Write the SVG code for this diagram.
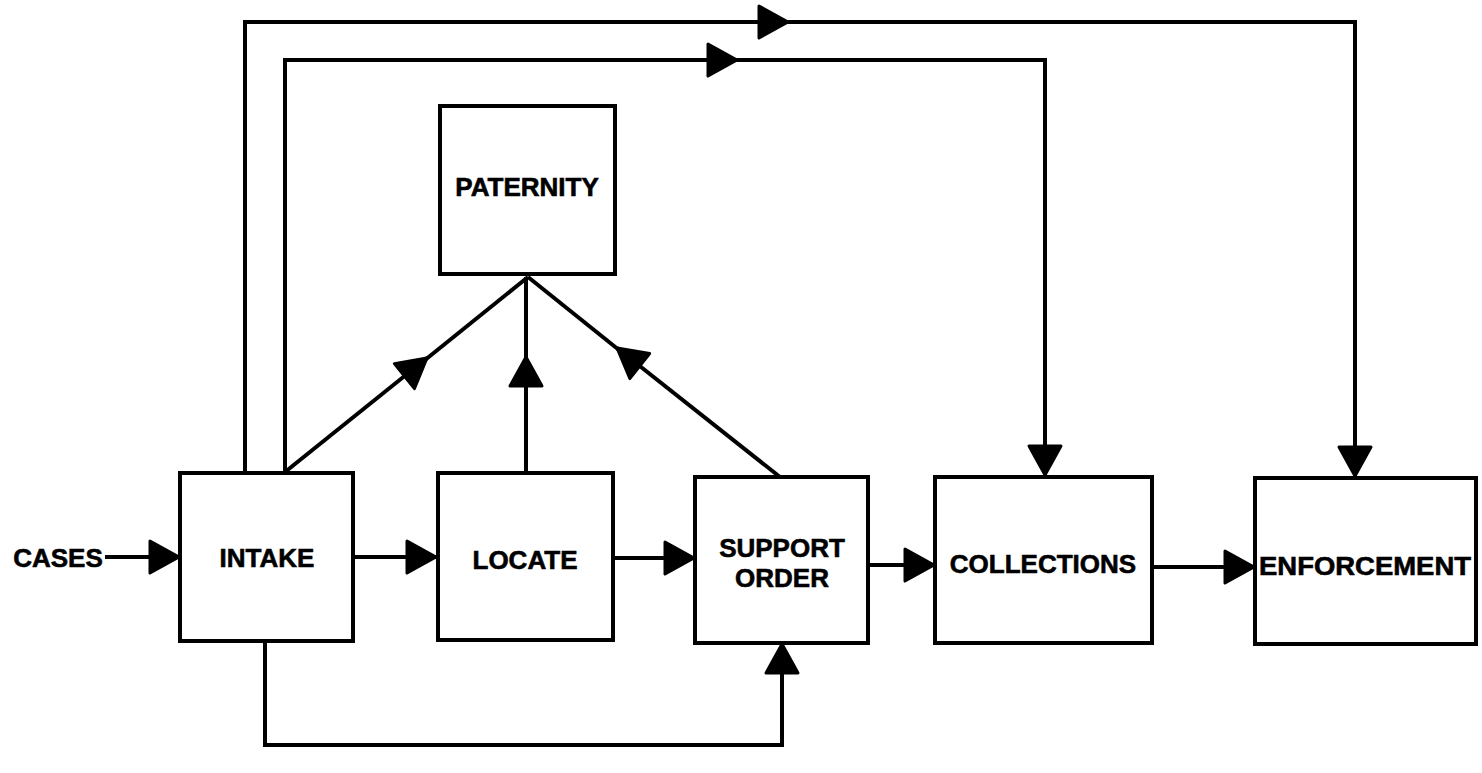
<svg xmlns="http://www.w3.org/2000/svg" width="1482" height="773" viewBox="0 0 1482 773">
  <style>
    .box { fill: #ffffff; stroke: #000000; stroke-width: 4; }
    .lbl { font-family: "Liberation Sans", Arial, Helvetica, sans-serif; font-weight: bold; font-size: 26px; fill: #000000; text-anchor: middle; dominant-baseline: central; stroke: #000000; stroke-width: 0.6; }
    .wire { fill: none; stroke: #000000; stroke-width: 4; stroke-linejoin: miter; }
  </style>
  <defs>
    <marker id="arr" markerUnits="userSpaceOnUse" markerWidth="36" markerHeight="38" viewBox="-3 -3 36 38" refX="29" refY="16" orient="auto">
      <path d="M0,0 L29,16 L0,32 Z" fill="#000000" stroke="#000000" stroke-width="3" stroke-linejoin="round"/>
    </marker>
  </defs>

  <rect width="1482" height="773" fill="#ffffff"/>

  <!-- connectors -->
  <g id="connectors">
    <!-- incoming cases -->
    <path class="wire" d="M105,557 H179" marker-end="url(#arr)"/>
    <!-- main flow -->
    <path class="wire" d="M353,557 H436" marker-end="url(#arr)"/>
    <path class="wire" d="M612,558 H694" marker-end="url(#arr)"/>
    <path class="wire" d="M868,565 H934" marker-end="url(#arr)"/>
    <path class="wire" d="M1152,567 H1254" marker-end="url(#arr)"/>
    <!-- intake to enforcement (outer loop) -->
    <path class="wire" d="M245,472 V22 H788" marker-end="url(#arr)"/>
    <path class="wire" d="M786,22 H1355 V476" marker-end="url(#arr)"/>
    <!-- intake to collections (inner loop) -->
    <path class="wire" d="M285,472 V60 H737" marker-end="url(#arr)"/>
    <path class="wire" d="M735,60 H1045 V475" marker-end="url(#arr)"/>
    <!-- paths into paternity -->
    <path class="wire" d="M285,472 L427,358" marker-end="url(#arr)"/>
    <path class="wire" d="M425,360 L528,277"/>
    <path class="wire" d="M526,472 V357" marker-end="url(#arr)"/>
    <path class="wire" d="M526,359 V277"/>
    <path class="wire" d="M780,477 L617,348" marker-end="url(#arr)"/>
    <path class="wire" d="M619,350 L528,277"/>
    <!-- intake to support order (bottom loop) -->
    <path class="wire" d="M265,642 V745 H782 V644" marker-end="url(#arr)"/>
  </g>

  <text class="lbl" x="58" y="558">CASES</text>

  <g id="intake">
    <rect class="box" x="180" y="473" width="173" height="168"/>
    <text class="lbl" x="267" y="558">INTAKE</text>
  </g>

  <g id="locate">
    <rect class="box" x="438" y="473" width="175" height="167"/>
    <text class="lbl" x="525" y="560">LOCATE</text>
  </g>

  <g id="paternity">
    <rect class="box" x="440" y="106" width="175" height="168"/>
    <text class="lbl" x="527" y="187">PATERNITY</text>
  </g>

  <g id="support-order">
    <rect class="box" x="695" y="477" width="173" height="166"/>
    <text class="lbl" x="782" y="548">SUPPORT</text>
    <text class="lbl" x="782" y="578">ORDER</text>
  </g>

  <g id="collections">
    <rect class="box" x="935" y="477" width="217" height="166"/>
    <text class="lbl" x="1043" y="564">COLLECTIONS</text>
  </g>

  <g id="enforcement">
    <rect class="box" x="1255" y="478" width="221" height="166"/>
    <text class="lbl" x="1365" y="566" textLength="212" lengthAdjust="spacingAndGlyphs">ENFORCEMENT</text>
  </g>
</svg>
